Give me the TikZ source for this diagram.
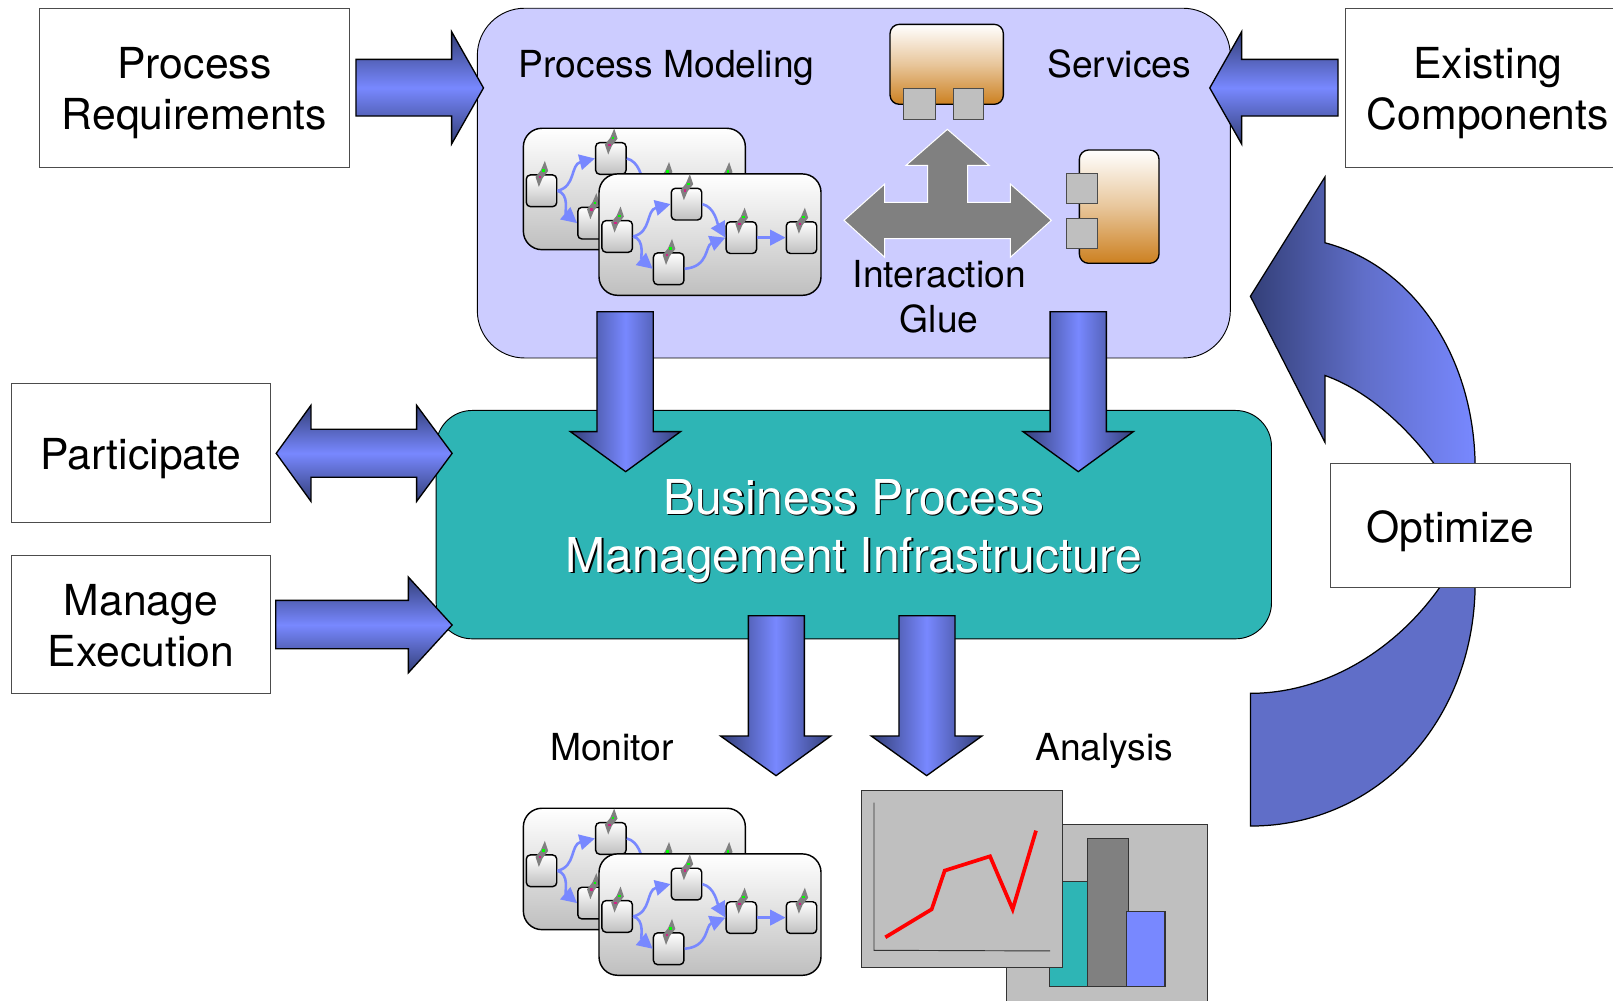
\documentclass[tikz,border=0pt]{standalone}
\usepackage{fontspec}
\setmainfont{TeX Gyre Heros}
\usetikzlibrary{arrows.meta}
\definecolor{ablue}{HTML}{7888FF}
\definecolor{adark}{HTML}{333F78}
\definecolor{amid}{HTML}{606EC8}
\definecolor{lilac}{HTML}{CCCCFF}
\definecolor{teal2}{HTML}{2EB5B5}
\definecolor{panel}{HTML}{BFBFBF}
\definecolor{midgray}{HTML}{808080}
\definecolor{orange2}{HTML}{CC8020}
\newcommand{\dropped}[2]{\makebox[0pt]{\raisebox{#1}[0pt][0pt]{\parbox{300pt}{\centering #2}}}}
\tikzset{
  labelbox/.style={draw=black!70,line width=0.9pt,fill=white,inner sep=0pt,font=\fontsize{41.5}{49.6}\selectfont},
  plainlabel/.style={align=center,inner sep=0pt,font=\fontsize{36.2}{44}\selectfont},
  bigtext/.style={align=center,inner sep=0pt,font=\fontsize{46.7}{56.6}\selectfont},
  harrow/.style={draw=black,line width=1.3pt,miter limit=20,top color=adark,bottom color=adark,middle color=ablue},
  varrow/.style={draw=black,line width=1.3pt,miter limit=20,left color=adark,right color=adark,middle color=ablue},
  localscale/.style={x=0.324pt,y=-0.324pt},
  flowcardbox/.style={draw=black,line width=1.4pt,rounded corners=18pt,top color=white,bottom color=panel,minimum width=215.8pt,minimum height=118pt,inner sep=0pt},
  flowbox/.style={draw=black,line width=1.4pt,rounded corners=4pt,top color=white,bottom color=panel,minimum width=29.6pt,minimum height=30.8pt,inner sep=0pt},
  flowline/.style={draw=ablue,line width=2.5pt,-{Triangle[length=15pt,width=15pt]}},
  portbox/.style={draw=black!70,line width=0.8pt,fill=panel,inner sep=0pt},
  compbody/.style={draw=black,line width=1.3pt,top color=white,bottom color=orange2,middle color=white!55!orange2,rounded corners=9pt},
  panelbox/.style={draw=black!80,line width=0.9pt,fill=panel},
  barbox/.style={draw=black!80,line width=1pt},
}
\newcommand{\gearicon}[1]{%
  \begin{scope}[shift={(#1.north)}]
    \fill[midgray] (10,-40) -- (20,-10) -- (3,12) -- (-8,38) -- (-18,8) -- (-2,-12) -- cycle;
    \fill[green] (2,-15) rectangle (10,-8);
    \fill[magenta!85!black] (-9,5) rectangle (-1,12);
  \end{scope}}
\newcommand{\flowcard}[3]{% prefix, x, y of the card's top-left in local units
  \begin{scope}[shift={(#2,#3)}]
    \node[flowcardbox] (#1card) at (333,182) {};
    \node[flowbox] (#1a) at (54.5,187.5) {};
    \node[flowbox] (#1b) at (262.5,90.5) {};
    \node[flowbox] (#1c) at (209,284.5) {};
    \node[flowbox] (#1d) at (427,191) {};
    \node[flowbox] (#1e) at (607.5,191) {};
    \draw[flowline] (#1a.east) .. controls +(18pt,4pt) and +(-24pt,-6pt) .. (#1b.west);
    \draw[flowline] (#1a.east) .. controls +(12pt,-3pt) and +(-12pt,10pt) .. (#1c.west);
    \draw[flowline] (#1b.east) .. controls +(12pt,-3pt) and +(-8pt,14pt) .. (#1d.west);
    \draw[flowline] (#1c.east) .. controls +(24pt,2pt) and +(-20pt,-8pt) .. (#1d.west);
    \draw[flowline] (#1d.east) -- (#1e.west);
    \gearicon{#1a}\gearicon{#1b}\gearicon{#1c}\gearicon{#1d}\gearicon{#1e}
  \end{scope}}
\begin{document}
\begin{tikzpicture}[x=1pt,y=-1pt]
\useasboundingbox (0,0) rectangle (1568,972.1);
\clip (0,0) rectangle (1568,972.1);
\fill[white] (0,0) rectangle (1568,972.1);

% main panels
\node[draw=black,line width=0.9pt,fill=lilac,rounded corners=46pt,minimum width=732pt,minimum height=340pt,inner sep=0pt] (modelpanel) at (830,178) {};
\node[draw=black,line width=0.9pt,fill=teal2,rounded corners=35pt,minimum width=812pt,minimum height=222pt,inner sep=0pt] (bpmpanel) at (830,510) {};

% process flow stacks
\begin{scope}[shift={(495.8,106.9)},localscale]
  \flowcard{ub}{40}{55}
  \flowcard{uf}{267}{192}
\end{scope}
\begin{scope}[shift={(495.8,767.9)},localscale]
  \flowcard{lb}{40}{55}
  \flowcard{lf}{267}{192}
\end{scope}

% services and glue
\begin{scope}[shift={(816.6,9.72)},localscale]
  \path[draw=white,line width=1pt,fill=midgray] (322,358) -- (447,466) -- (383,466) -- (383,577) -- (511,577) -- (511,522) -- (634,631) -- (511,742) -- (511,686) -- (134,686) -- (134,742) -- (12,631) -- (134,522) -- (134,577) -- (263,577) -- (263,466) -- (198,466) -- cycle;
  \path[compbody] (150,43) rectangle (490,283);
  \path[portbox] (190,236) rectangle (287,327);
  \path[portbox] (340,236) rectangle (431,327);
  \path[compbody] (718,420) rectangle (957,760);
  \path[portbox] (680,490) rectangle (771,580);
  \path[portbox] (680,624) rectangle (771,715);
\end{scope}

% chart panels
\begin{scope}[shift={(826.3,758.2)},localscale]
  \path[panelbox] (470,132) rectangle (1072,720);
  \path[barbox,fill=teal2] (598,305) rectangle (715,620);
  \path[barbox,fill=midgray] (713,177) rectangle (835,620);
  \path[barbox,fill=ablue] (829,395) rectangle (945,620);
  \path[panelbox] (34,30) rectangle (637,562);
  \draw[black!80,line width=0.9pt] (72,68) -- (72,511) -- (600,513);
  \draw[red,line width=3.6pt,line join=miter] (106,472) -- (245,388) -- (284,272) -- (420,229) -- (488,388) -- (558,152);
\end{scope}

% label boxes
\node[labelbox,minimum width=301pt,minimum height=155pt] (procreq) at (189,85.5) {\dropped{-11pt}{Process\\Requirements}};
\node[labelbox,minimum width=276pt,minimum height=155pt] (existing) at (1446.3,85.5) {\dropped{-11pt}{Existing\\Components}};
\node[labelbox,minimum width=252pt,minimum height=135pt] (participate) at (137,440.5) {\dropped{-11.5pt}{Participate}};
\node[labelbox,minimum width=252pt,minimum height=135pt] (manage) at (137,607) {\dropped{-7.5pt}{Manage\\Execution}};

% block arrows
\path[harrow] (346,57.7) -- (439,57.7) -- (439,30.8) -- (470,85.5) -- (439,140) -- (439,112.8) -- (346,112.8) -- cycle;
\path[harrow] (1300.7,57.7) -- (1207,57.7) -- (1207,30.8) -- (1176,85.5) -- (1207,140) -- (1207,112.8) -- (1300.7,112.8) -- cycle;
\path[harrow] (268.5,440.7) -- (302.3,394) -- (302.3,417.3) -- (405,417.3) -- (405,394) -- (439.5,440.7) -- (405,487.4) -- (405,464) -- (302.3,464) -- (302.3,487.4) -- cycle;
\path[harrow] (268,583.6) -- (397,583.6) -- (397,561) -- (439.5,607.6) -- (397,654) -- (397,630.6) -- (268,630.6) -- cycle;

\path[varrow] (580.3,303) -- (635,303) -- (635,419.6) -- (661.5,419.6) -- (608.2,458.5) -- (554.5,419.6) -- (580.3,419.6) -- cycle;
\path[varrow] (1020.8,303) -- (1075.5,303) -- (1075.5,419.6) -- (1101.7,419.6) -- (1048.2,458.5) -- (994.5,419.6) -- (1020.8,419.6) -- cycle;
\path[varrow] (727.5,598.5) -- (781.9,598.5) -- (781.9,715.5) -- (807.5,715.5) -- (754.4,754) -- (700.5,715.5) -- (727.5,715.5) -- cycle;
\path[varrow] (873.9,598.5) -- (928.4,598.5) -- (928.4,715.5) -- (954.5,715.5) -- (900.8,754) -- (847,715.5) -- (873.9,715.5) -- cycle;

% optimize loop
\path[draw=black,line width=1.2pt,fill=amid] (1215.5,803) .. controls (1340,803) and (1434,700) .. (1434,566) -- (1403,566) .. controls (1360,630) and (1290,674) .. (1215.5,674) -- cycle;
\path[draw=black,line width=1.2pt,miter limit=20,left color=adark,right color=ablue,middle color=amid] (1215.5,288) -- (1288,172) -- (1288,236) .. controls (1372,258) and (1434,345) .. (1434,456) -- (1398,456) .. controls (1368,415) and (1330,380) .. (1288,365) -- (1288,430) -- cycle;
\node[labelbox,minimum width=233pt,minimum height=120pt] (optimize) at (1410,511) {\dropped{-12pt}{Optimize}};

% labels
\node[plainlabel] (modeling) at (648,66) {Process Modeling};
\node[plainlabel] (services) at (1088,62) {Services};
\node[plainlabel] (glue) at (913,288.5) {Interaction\\Glue};
\node[plainlabel] (monitor) at (595,726) {Monitor};
\node[plainlabel] (analysis) at (1073.5,730) {Analysis};
\node[bigtext,text=black] (bpmshadow) at (831.3,517.5) {Business Process\\Management Infrastructure};
\node[bigtext,text=white] (bpmtext) at (830,516.2) {Business Process\\Management Infrastructure};
\end{tikzpicture}
\end{document}
